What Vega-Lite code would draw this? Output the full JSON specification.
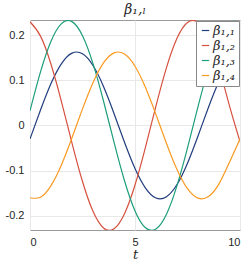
{
  "$schema": "https://vega.github.io/schema/vega-lite/v6.json",
  "width": 210,
  "height": 210,
  "autosize": {"type": "none"},
  "padding": {"left": 30, "top": 20, "right": 9, "bottom": 35},
  "background": "white",
  "title": {"text": "β₁,ₗ", "font": "DejaVu Serif", "fontStyle": "italic", "fontWeight": "normal", "fontSize": 14, "color": "#262626", "anchor": "middle", "offset": 3},
  "config": {
    "view": {"stroke": "#9a9a9a", "strokeWidth": 1},
    "axis": {"domain": false, "ticks": false, "gridColor": "#e8e8e8", "gridWidth": 1, "labelFont": "Liberation Sans", "labelFontSize": 11, "labelColor": "#262626", "titleColor": "#262626"}
  },
  "data": {"values": [
    {"t": 0, "s": "β₁,₁", "v": -0.0298}, {"t": 0.5, "s": "β₁,₁", "v": 0.0342}, {"t": 1, "s": "β₁,₁", "v": 0.0929}, {"t": 1.5, "s": "β₁,₁", "v": 0.1373}, {"t": 2, "s": "β₁,₁", "v": 0.1605}, {"t": 2.5, "s": "β₁,₁", "v": 0.1590}, {"t": 3, "s": "β₁,₁", "v": 0.1330}, {"t": 3.5, "s": "β₁,₁", "v": 0.0865}, {"t": 4, "s": "β₁,₁", "v": 0.0266}, {"t": 4.5, "s": "β₁,₁", "v": -0.0374}, {"t": 5, "s": "β₁,₁", "v": -0.0956}, {"t": 5.5, "s": "β₁,₁", "v": -0.1390}, {"t": 6, "s": "β₁,₁", "v": -0.1611}, {"t": 6.5, "s": "β₁,₁", "v": -0.1583}, {"t": 7, "s": "β₁,₁", "v": -0.1311}, {"t": 7.5, "s": "β₁,₁", "v": -0.0837}, {"t": 8, "s": "β₁,₁", "v": -0.0234}, {"t": 8.5, "s": "β₁,₁", "v": 0.0405}, {"t": 9, "s": "β₁,₁", "v": 0.0982}, {"t": 9.5, "s": "β₁,₁", "v": 0.1407}, {"t": 10, "s": "β₁,₁", "v": 0.1615},
    {"t": 0, "s": "β₁,₂", "v": 0.2301}, {"t": 0.5, "s": "β₁,₂", "v": 0.1982}, {"t": 1, "s": "β₁,₂", "v": 0.1358}, {"t": 1.5, "s": "β₁,₂", "v": 0.0525}, {"t": 2, "s": "β₁,₂", "v": -0.0390}, {"t": 2.5, "s": "β₁,₂", "v": -0.1244}, {"t": 3, "s": "β₁,₂", "v": -0.1906}, {"t": 3.5, "s": "β₁,₂", "v": -0.2275}, {"t": 4, "s": "β₁,₂", "v": -0.2293}, {"t": 4.5, "s": "β₁,₂", "v": -0.1958}, {"t": 5, "s": "β₁,₂", "v": -0.1321}, {"t": 5.5, "s": "β₁,₂", "v": -0.0480}, {"t": 6, "s": "β₁,₂", "v": 0.0435}, {"t": 6.5, "s": "β₁,₂", "v": 0.1283}, {"t": 7, "s": "β₁,₂", "v": 0.1933}, {"t": 7.5, "s": "β₁,₂", "v": 0.2285}, {"t": 8, "s": "β₁,₂", "v": 0.2285}, {"t": 8.5, "s": "β₁,₂", "v": 0.1932}, {"t": 9, "s": "β₁,₂", "v": 0.1282}, {"t": 9.5, "s": "β₁,₂", "v": 0.0435}, {"t": 10, "s": "β₁,₂", "v": -0.0360},
    {"t": 0, "s": "β₁,₃", "v": 0.0326}, {"t": 0.5, "s": "β₁,₃", "v": 0.1189}, {"t": 1, "s": "β₁,₃", "v": 0.1869}, {"t": 1.5, "s": "β₁,₃", "v": 0.2260}, {"t": 2, "s": "β₁,₃", "v": 0.2304}, {"t": 2.5, "s": "β₁,₃", "v": 0.1992}, {"t": 3, "s": "β₁,₃", "v": 0.1373}, {"t": 3.5, "s": "β₁,₃", "v": 0.0543}, {"t": 4, "s": "β₁,₃", "v": -0.0371}, {"t": 4.5, "s": "β₁,₃", "v": -0.1228}, {"t": 5, "s": "β₁,₃", "v": -0.1896}, {"t": 5.5, "s": "β₁,₃", "v": -0.2271}, {"t": 6, "s": "β₁,₃", "v": -0.2296}, {"t": 6.5, "s": "β₁,₃", "v": -0.1968}, {"t": 7, "s": "β₁,₃", "v": -0.1336}, {"t": 7.5, "s": "β₁,₃", "v": -0.0498}, {"t": 8, "s": "β₁,₃", "v": 0.0417}, {"t": 8.5, "s": "β₁,₃", "v": 0.1267}, {"t": 9, "s": "β₁,₃", "v": 0.1922}, {"t": 9.5, "s": "β₁,₃", "v": 0.2281}, {"t": 10, "s": "β₁,₃", "v": 0.2288},
    {"t": 0, "s": "β₁,₄", "v": -0.1604}, {"t": 0.5, "s": "β₁,₄", "v": -0.1592}, {"t": 1, "s": "β₁,₄", "v": -0.1334}, {"t": 1.5, "s": "β₁,₄", "v": -0.0870}, {"t": 2, "s": "β₁,₄", "v": -0.0272}, {"t": 2.5, "s": "β₁,₄", "v": 0.0367}, {"t": 3, "s": "β₁,₄", "v": 0.0950}, {"t": 3.5, "s": "β₁,₄", "v": 0.1387}, {"t": 4, "s": "β₁,₄", "v": 0.1610}, {"t": 4.5, "s": "β₁,₄", "v": 0.1584}, {"t": 5, "s": "β₁,₄", "v": 0.1315}, {"t": 5.5, "s": "β₁,₄", "v": 0.0843}, {"t": 6, "s": "β₁,₄", "v": 0.0241}, {"t": 6.5, "s": "β₁,₄", "v": -0.0399}, {"t": 7, "s": "β₁,₄", "v": -0.0976}, {"t": 7.5, "s": "β₁,₄", "v": -0.1404}, {"t": 8, "s": "β₁,₄", "v": -0.1614}, {"t": 8.5, "s": "β₁,₄", "v": -0.1576}, {"t": 9, "s": "β₁,₄", "v": -0.1296}, {"t": 9.5, "s": "β₁,₄", "v": -0.0815}, {"t": 10, "s": "β₁,₄", "v": -0.0300}
  ]},
  "mark": {"type": "line", "interpolate": "natural", "strokeWidth": 1.2, "clip": true},
  "encoding": {
    "x": {"field": "t", "type": "quantitative", "scale": {"domain": [0, 10], "nice": false, "zero": false},
      "axis": {"values": [0, 5, 10], "labelPadding": 6, "title": "t", "titleFont": "DejaVu Serif", "titleFontStyle": "italic", "titleFontWeight": "normal", "titleFontSize": 13, "titlePadding": 1}},
    "y": {"field": "v", "type": "quantitative", "scale": {"domain": [-0.232, 0.234], "nice": false, "zero": false},
      "axis": {"values": [-0.2, -0.1, 0, 0.1, 0.2], "labelPadding": 6, "title": null,
        "labelExpr": "datum.value == 0 ? '0' : replace(format(datum.value, '.1f'), '−', '-')"}},
    "color": {"field": "s", "type": "nominal",
      "scale": {"domain": ["β₁,₁", "β₁,₂", "β₁,₃", "β₁,₄"], "range": ["#203d7d", "#d6513f", "#1d9e7a", "#fa9a22"]},
      "legend": {"title": null, "orient": "top-right", "offset": 1, "fillColor": "white", "strokeColor": "#8a8a8a", "padding": 3,
        "labelFont": "DejaVu Serif", "labelFontStyle": "italic", "labelFontSize": 13, "labelColor": "#262626", "labelOffset": 1,
        "symbolType": "stroke", "symbolStrokeWidth": 1.2, "symbolSize": 55, "rowPadding": 1}}
  }
}
